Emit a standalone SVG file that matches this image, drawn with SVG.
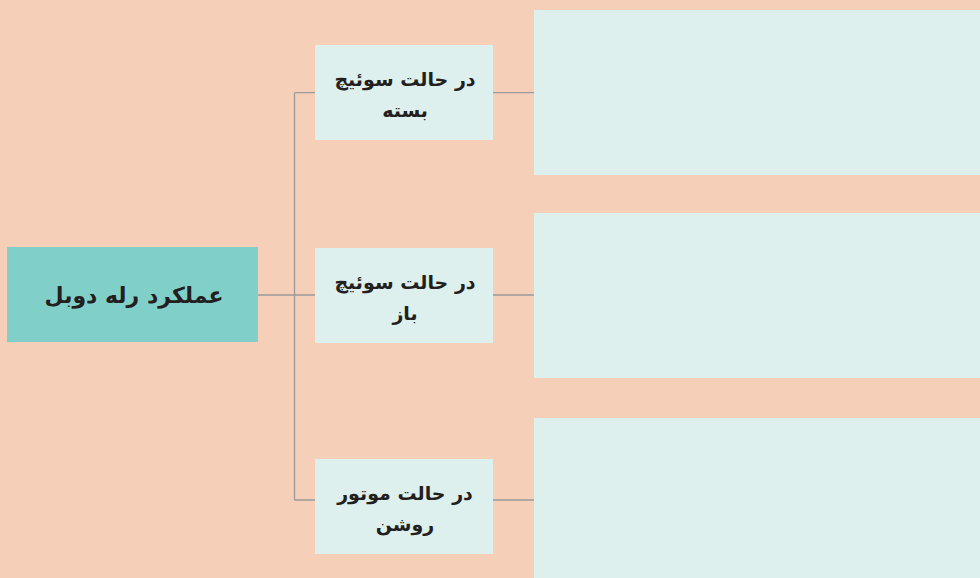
<svg xmlns="http://www.w3.org/2000/svg" width="980" height="578" viewBox="0 0 980 578">
<style>
.bg{fill:#f6cfb9}
.root{fill:#80cfc9}
.box{fill:#ddf0ed}
.t{font-family:"DejaVu Sans","Noto Sans",sans-serif;font-weight:bold;fill:#231f20;text-anchor:middle;direction:rtl}
.c{stroke:#9a9a9a;stroke-width:1.3;fill:none}
</style>
<rect class="bg" x="0" y="0" width="980" height="578"/>
<g id="connectors">
<path class="c" d="M258 295H294.5M294.5 92.7V500M294.5 92.7H315M294.5 295H315M294.5 500H315M493 92.7H534M493 295H534M493 500H534"/>
</g>
<g id="root">
<rect class="root" x="7" y="247" width="251" height="95"/>
<text class="t" x="134" y="303" font-size="22">عملکرد رله دوبل</text>
</g>
<g id="n1">
<rect class="box" x="315" y="45" width="178" height="95"/>
<text class="t" x="405" y="86" font-size="19">در حالت سوئیچ</text>
<text class="t" x="405" y="117" font-size="19">بسته</text>
</g>
<g id="n2">
<rect class="box" x="315" y="248" width="178" height="95"/>
<text class="t" x="405" y="289" font-size="19">در حالت سوئیچ</text>
<text class="t" x="405" y="320" font-size="19">باز</text>
</g>
<g id="n3">
<rect class="box" x="315" y="459" width="178" height="95"/>
<text class="t" x="405" y="500" font-size="19">در حالت موتور</text>
<text class="t" x="405" y="531" font-size="19">روشن</text>
</g>
<g id="r1"><rect class="box" x="534" y="10" width="446" height="165"/></g>
<g id="r2"><rect class="box" x="534" y="213" width="446" height="165"/></g>
<g id="r3"><rect class="box" x="534" y="418" width="446" height="160"/></g>
</svg>
